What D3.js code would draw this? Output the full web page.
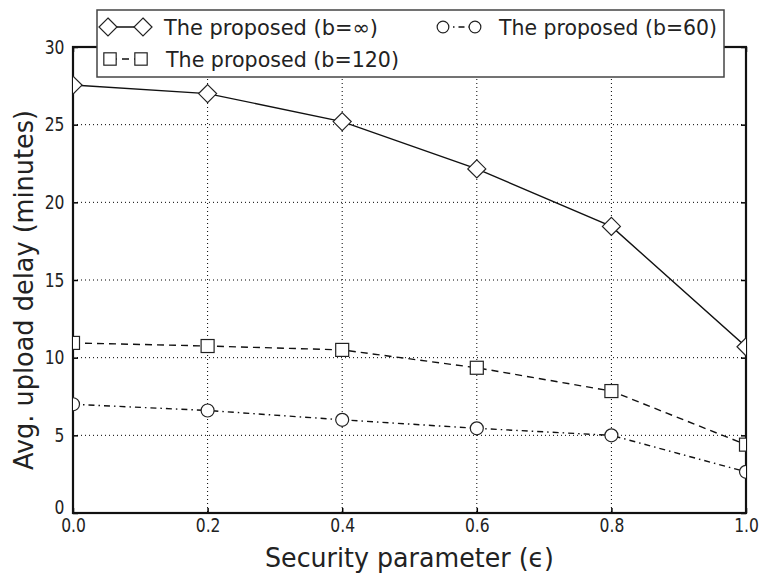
<!DOCTYPE html>
<html>
<head>
<meta charset="utf-8">
<script src="https://cdn.jsdelivr.net/npm/d3@7"></script>
<style>
  body { margin: 0; background: #fff; }
  svg { font-family: "DejaVu Sans", sans-serif; }
  .grid line { stroke: #000; stroke-width: 1; stroke-dasharray: 1,3; }
</style>
</head>
<body>
<svg id="chart" width="763" height="574"></svg>
<script>
var xValues = [0.0, 0.2, 0.4, 0.6, 0.8, 1.0];
var xTicks = [0.0, 0.2, 0.4, 0.6, 0.8, 1.0];
var yTicks = [0, 5, 10, 15, 20, 25, 30];
var delayInf = [27.55, 27.0, 25.2, 22.15, 18.45, 10.7];
var delay120 = [10.95, 10.75, 10.5, 9.35, 7.85, 4.4];
var delay60 = [7.0, 6.6, 6.0, 5.45, 5.0, 2.65];

var margin = {top: 47, right: 17, bottom: 61, left: 73};
var width = 763 - margin.left - margin.right;
var height = 574 - margin.top - margin.bottom;

var svg = d3.select('#chart');
var panel = svg.append('g')
    .attr('transform', 'translate(' + margin.left + ',' + margin.top + ')');

var scaleX = d3.scaleLinear().domain([0, 1]).range([0, width]);
var scaleY = d3.scaleLinear().domain([0, 30]).range([height, 0]);

svg.append('defs').append('clipPath').attr('id', 'plotclip')
    .append('rect').attr('width', width).attr('height', height);

// grid
panel.append('g').attr('class', 'grid')
    .selectAll('line.gx').data(xTicks.slice(1, -1)).enter().append('line')
    .attr('x1', scaleX).attr('x2', scaleX).attr('y1', 0).attr('y2', height);
panel.append('g').attr('class', 'grid')
    .selectAll('line.gy').data(yTicks.slice(1, -1)).enter().append('line')
    .attr('y1', scaleY).attr('y2', scaleY).attr('x1', 0).attr('x2', width);

// axes, ticks pointing inward
var fmtX = d3.format('.1f');
var axisBottom = panel.append('g').attr('transform', 'translate(0,' + height + ')')
    .call(d3.axisBottom(scaleX).tickValues(xTicks).tickFormat(fmtX).tickSizeInner(-5).tickSizeOuter(0).tickPadding(5.5));
var axisLeft = panel.append('g')
    .call(d3.axisLeft(scaleY).tickValues(yTicks).tickSizeInner(-5).tickSizeOuter(0).tickPadding(8.5));
var axisTop = panel.append('g')
    .call(d3.axisTop(scaleX).tickValues(xTicks).tickFormat('').tickSizeInner(-5).tickSizeOuter(0));
var axisRight = panel.append('g').attr('transform', 'translate(' + width + ',0)')
    .call(d3.axisRight(scaleY).tickValues(yTicks).tickFormat('').tickSizeInner(-5).tickSizeOuter(0));

// tick labels in the picture are narrow and tall, so squeeze them sideways
var squeeze = 0.82;
[axisBottom, axisLeft, axisTop, axisRight].forEach(function(a){
    a.select('.domain').remove();
    a.selectAll('line').attr('stroke', '#000').attr('stroke-width', 1.5);
    a.selectAll('text').attr('fill', '#222')
        .style('font-size', '19px')
        .style('font-family', '"DejaVu Sans", sans-serif')
        .attr('transform', 'scale(' + squeeze + ',1)');
});
axisLeft.selectAll('.tick text').attr('x', -8.5 / squeeze);
// the "0" sits a little higher so it clears "0.0"
axisLeft.selectAll('.tick').filter(function(d){ return d === 0; })
    .select('text').attr('dy', '0.05em');

panel.append('rect')
    .attr('width', width).attr('height', height)
    .attr('fill', 'none').attr('stroke', '#111').attr('stroke-width', 2.2);

// series
var series = [
    {values: delayInf, dash: null, marker: 'diamond', label: 'The proposed (b=\u221e)'},
    {values: delay120, dash: '7,5', marker: 'square', label: 'The proposed (b=120)'},
    {values: delay60, dash: '6,4,1.5,4', marker: 'circle', label: 'The proposed (b=60)'}
];

var drawMarker = function(sel, type, k){
    k = k || 1;
    if(type === 'diamond'){
        sel.append('path').attr('d', 'M0,' + (-9 * k) + 'L' + (9 * k) + ',0L0,' + (9 * k) + 'L' + (-9 * k) + ',0Z');
    } else if(type === 'square'){
        sel.append('rect').attr('x', -6.5 * k).attr('y', -6.5 * k).attr('width', 13 * k).attr('height', 13 * k);
    } else {
        sel.append('circle').attr('r', 6.5 * k);
    }
    sel.selectAll('*').attr('fill', '#fff').attr('stroke', '#222').attr('stroke-width', 1.2);
};

var line = d3.line()
    .x(function(d, i){ return scaleX(xValues[i]); })
    .y(function(d){ return scaleY(d); });

var plot = panel.append('g').attr('clip-path', 'url(#plotclip)');
series.forEach(function(s){
    plot.append('path')
        .datum(s.values)
        .attr('d', line)
        .attr('fill', 'none')
        .attr('stroke', '#111')
        .attr('stroke-width', 1.4)
        .attr('stroke-dasharray', s.dash);
    plot.selectAll(null).data(s.values).enter().append('g')
        .attr('transform', function(d, i){ return 'translate(' + scaleX(xValues[i]) + ',' + scaleY(d) + ')'; })
        .each(function(){ drawMarker(d3.select(this), s.marker); });
});

// axis labels
svg.append('text')
    .attr('x', margin.left + width / 2).attr('y', 567)
    .attr('text-anchor', 'middle')
    .attr('fill', '#222')
    .style('font-size', '26px')
    .attr('textLength', 289)
    .attr('lengthAdjust', 'spacingAndGlyphs')
    .text('Security parameter (\u03f5)');
svg.append('text')
    .attr('transform', 'translate(33,290) rotate(-90)')
    .attr('text-anchor', 'middle')
    .attr('fill', '#222')
    .style('font-size', '27px')
    .attr('textLength', 360)
    .attr('lengthAdjust', 'spacingAndGlyphs')
    .text('Avg. upload delay (minutes)');

// legend
var legend = svg.append('g').attr('transform', 'translate(97,10)');
legend.append('rect')
    .attr('width', 627).attr('height', 67)
    .attr('fill', '#fff').attr('stroke', '#444').attr('stroke-width', 1.5);
var legendPos = [[11, 17], [13, 49], [346, 17]];
var legendGap = [35, 31, 32];
var legendSize = [1, 0.95, 0.9];
var legendText = [214, 233, 218];
series.forEach(function(s, k){
    var g = legend.append('g').attr('transform', 'translate(' + legendPos[k] + ')');
    g.append('line')
        .attr('x1', 0).attr('x2', legendGap[k]).attr('y1', 0).attr('y2', 0)
        .attr('stroke', '#111').attr('stroke-width', 1.4)
        .attr('stroke-dasharray', s.dash);
    [0, legendGap[k]].forEach(function(px){
        var m = g.append('g').attr('transform', 'translate(' + px + ',0)');
        drawMarker(m, s.marker, legendSize[k]);
    });
    g.append('text')
        .attr('x', 56).attr('y', 0).attr('dy', '0.36em')
        .attr('fill', '#222')
        .style('font-size', '21px')
        .attr('textLength', legendText[k])
        .attr('lengthAdjust', 'spacingAndGlyphs')
        .text(s.label);
});
</script>
</body>
</html>
